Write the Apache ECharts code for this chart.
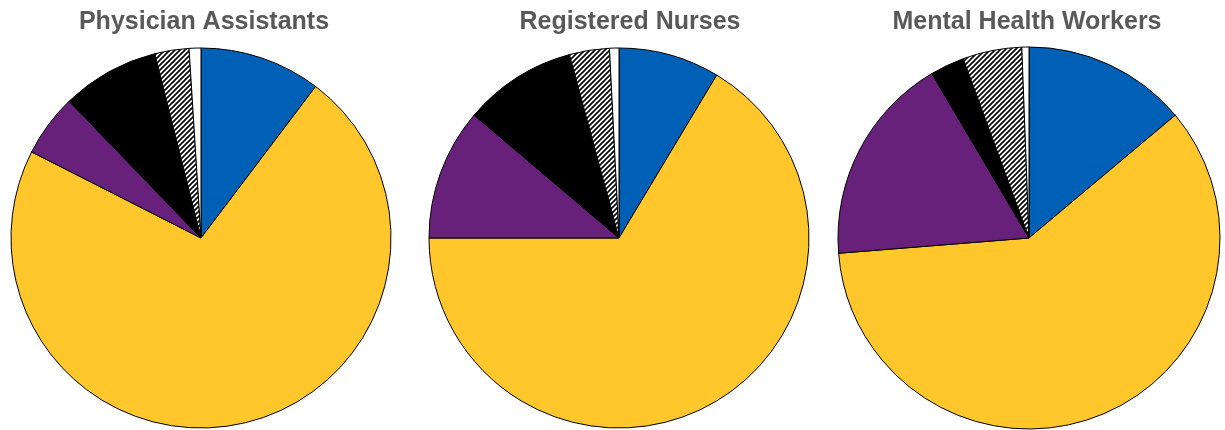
<!DOCTYPE html>
<html>
<head>
<meta charset="utf-8">
<script src="https://cdn.jsdelivr.net/npm/echarts@6/dist/echarts.min.js"></script>
<style>
  html, body { margin: 0; padding: 0; background: #fff; }
  #chart { width: 1225px; height: 430px; }
</style>
</head>
<body>
<div id="chart"></div>
<script>
// slice order, clockwise from 12 o'clock
const categories = ['Blue', 'Yellow', 'Purple', 'Black', 'Hatched', 'White'];
const titles = ['Physician Assistants', 'Registered Nurses', 'Mental Health Workers'];

// shares (%)
const physicianAssistants = [10.3, 72.1, 5.3, 8.3, 2.9, 1.0];
const registeredNurses = [8.6, 66.4, 11.2, 9.6, 3.4, 0.8];
const mentalHealthWorkers = [13.9, 59.9, 17.8, 2.9, 5.0, 0.6];

// diagonal hatch tile ( "/" lines )
function hatch() {
    const c = document.createElement('canvas');
    c.width = 5; c.height = 5;
    const ctx = c.getContext('2d');
    ctx.fillStyle = '#fff';
    ctx.fillRect(0, 0, 5, 5);
    ctx.strokeStyle = '#000';
    ctx.lineWidth = 1.6;
    ctx.beginPath();
    ctx.moveTo(-1, 6); ctx.lineTo(6, -1);
    ctx.moveTo(-6, 6); ctx.lineTo(1, -1);
    ctx.moveTo(4, 6); ctx.lineTo(11, -1);
    ctx.stroke();
    return c;
}

const colors = ['#0060B6', '#FFC72C', '#68217A', '#000000', { image: hatch(), repeat: 'repeat' }, '#FFFFFF'];

const centers = [[201, 238], [619, 238], [1029, 238]];
const titleX = [199, 625, 1022];
const allData = [physicianAssistants, registeredNurses, mentalHealthWorkers];

const chart = echarts.init(document.getElementById('chart'));

const option = {
    animation: false,
    title: titles.map((t, i) => ({
        text: t,
        left: titleX[i],
        top: 5,
        textAlign: 'center',
        textStyle: {
            fontFamily: 'Liberation Sans',
            fontWeight: 'bold',
            fontSize: 25,
            color: '#595959'
        }
    })),
    series: allData.map((vals, i) => ({
        type: 'pie',
        center: centers[i],
        radius: i === 2 ? 191 : 190,
        startAngle: 90,
        clockwise: true,
        label: { show: false },
        labelLine: { show: false },
        emphasis: { disabled: true },
        itemStyle: { borderColor: '#000', borderWidth: 1 },
        data: vals.map((v, j) => ({
            name: categories[j],
            value: v,
            itemStyle: { color: colors[j] }
        }))
    }))
};
chart.setOption(option);
</script>
</body>
</html>
